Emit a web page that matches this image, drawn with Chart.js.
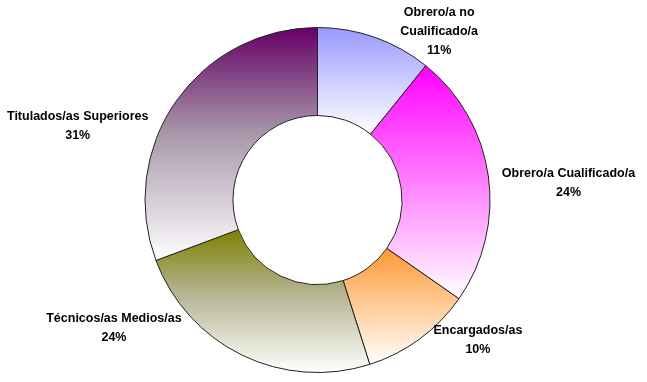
<!DOCTYPE html>
<html>
<head>
<meta charset="utf-8">
<script src="https://cdn.jsdelivr.net/npm/chart.js@4"></script>
<style>
  html, body { margin: 0; padding: 0; background: #fff; }
  #wrap { width: 647px; height: 382px; }
</style>
</head>
<body>
<div id="wrap"><canvas id="donutChart"></canvas></div>
<script>
// Data
const categories = ["Obrero/a no Cualificado/a", "Obrero/a Cualificado/a", "Encargados/as", "Técnicos/as Medios/as", "Titulados/as Superiores"];
const labelLines = [["Obrero/a no", "Cualificado/a"], ["Obrero/a Cualificado/a"], ["Encargados/as"], ["Técnicos/as Medios/as"], ["Titulados/as Superiores"]];
const shares = [10.8, 23.9, 10.4, 24.2, 30.7];
const topColors = ["#9999ff", "#ff00ff", "#ff9933", "#808000", "#660066"];
// the darker slices fade through a greyish tone, not a plain blend
const midColors = [null, null, null, "#b4b492", "#a796a9"];

// where each label block sits, in units of the outer radius from the centre
const labelSpots = [[0.705, -0.975], [1.455, -0.10], [0.93, 0.81], [-1.18, 0.745], [-1.39, -0.43]];

// vertical gradient per slice: colour at the slice's top, white at its bottom
const gradientPlugin = {
    id: "sliceGradient",
    beforeDatasetDraw(chart) {
        const ctx = chart.ctx;
        const meta = chart.getDatasetMeta(0);
        meta.data.forEach((arc, i) => {
            const p = arc.getProps(["x", "y", "startAngle", "endAngle", "innerRadius", "outerRadius"], true);
            let minY = Infinity, maxY = -Infinity;
            for (let k = 0; k <= 60; k++) {
                const a = p.startAngle + (p.endAngle - p.startAngle) * k / 60;
                [p.innerRadius, p.outerRadius].forEach(r => {
                    const y = p.y + Math.sin(a) * r;
                    minY = Math.min(minY, y);
                    maxY = Math.max(maxY, y);
                });
            }
            const g = ctx.createLinearGradient(0, minY, 0, maxY);
            g.addColorStop(0, topColors[i]);
            if (midColors[i]) g.addColorStop(0.45, midColors[i]);
            g.addColorStop(1, "#ffffff");
            arc.options.backgroundColor = g;
        });
    }
};

const labelPlugin = {
    id: "sliceLabels",
    afterDraw(chart) {
        const ctx = chart.ctx;
        const meta = chart.getDatasetMeta(0);
        ctx.save();
        ctx.font = "bold 12.5px 'Liberation Sans', Arial, sans-serif";
        ctx.fillStyle = "#000";
        ctx.textAlign = "center";
        ctx.textBaseline = "middle";
        meta.data.forEach((arc, i) => {
            const p = arc.getProps(["x", "y", "outerRadius"], true);
            const cx = p.x + labelSpots[i][0] * p.outerRadius;
            const cy = p.y + labelSpots[i][1] * p.outerRadius;
            const lines = labelLines[i].concat([Math.round(shares[i]) + "%"]);
            const lh = 19;
            const y0 = cy - (lines.length - 1) * lh / 2;
            lines.forEach((t, j) => ctx.fillText(t, cx, y0 + j * lh));
        });
        ctx.restore();
    }
};

new Chart(document.getElementById("donutChart"), {
    type: "doughnut",
    data: {
        labels: categories,
        datasets: [{
            data: shares,
            backgroundColor: topColors,
            borderColor: "#222",
            borderWidth: 1
        }]
    },
    options: {
        responsive: true,
        maintainAspectRatio: false,
        animation: false,
        cutout: "49%",
        layout: { padding: { top: 27, bottom: 9, left: 0, right: 12 } },
        plugins: {
            legend: { display: false },
            tooltip: { enabled: false }
        }
    },
    plugins: [gradientPlugin, labelPlugin]
});
</script>
</body>
</html>
